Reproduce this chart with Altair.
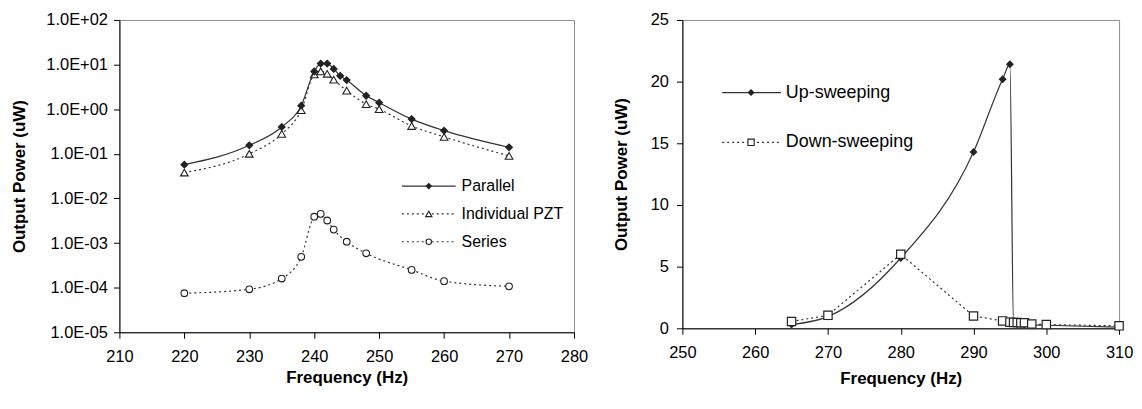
import altair as alt
import pandas as pd

# ---------------- data ----------------
# Left panel: log-scale output power vs frequency
par_freq = [220, 230, 235, 238, 240, 241, 242, 243, 244, 245, 248, 250, 255, 260, 270]
par_power = [0.057, 0.155, 0.40, 1.2, 7.0, 10.5, 10.5, 8.0, 5.6, 4.5, 2.0, 1.4, 0.60, 0.33, 0.14]

ind_freq = [220, 230, 235, 238, 240, 241, 242, 243, 245, 248, 250, 255, 260, 270]
ind_power = [0.038, 0.10, 0.28, 0.95, 6.0, 7.0, 6.2, 4.6, 2.6, 1.3, 1.0, 0.42, 0.24, 0.09]

ser_freq = [220, 230, 235, 238, 240, 241, 242, 243, 245, 248, 255, 260, 270]
ser_power = [7.5e-5, 9.2e-5, 1.6e-4, 4.9e-4, 3.9e-3, 4.5e-3, 3.2e-3, 2.0e-3, 1.07e-3, 5.9e-4, 2.5e-4, 1.4e-4, 1.07e-4]

left_series = ["Parallel", "Individual PZT", "Series"]
left_x_ticks = [210, 220, 230, 240, 250, 260, 270, 280]
left_y_ticks = [1e-5, 1e-4, 1e-3, 1e-2, 1e-1, 1e0, 1e1, 1e2]
left_y_labels = ["1.0E-05", "1.0E-04", "1.0E-03", "1.0E-02", "1.0E-01", "1.0E+00", "1.0E+01", "1.0E+02"]

# Right panel: linear output power vs frequency
up_freq = [265, 270, 280, 290, 294, 295, 295.5, 296, 297, 300, 310]
up_power = [0.3, 0.95, 5.7, 14.3, 20.2, 21.4, 0.4, 0.35, 0.3, 0.25, 0.1]

down_freq = [265, 270, 280, 290, 294, 295, 295.5, 296, 296.5, 297, 298, 300, 310]
down_power = [0.55, 1.05, 6.0, 1.0, 0.6, 0.5, 0.48, 0.47, 0.45, 0.45, 0.35, 0.3, 0.2]

right_series = ["Up-sweeping", "Down-sweeping"]
right_x_ticks = [250, 260, 270, 280, 290, 300, 310]
right_y_ticks = [0, 5, 10, 15, 20, 25]

x_title = "Frequency (Hz)"
y_title = "Output Power (uW)"

# ---------------- styling ----------------
FONT = "Liberation Sans"
LINE = "#333333"
MARK = "#222222"
DOT = [2, 3]

par_df = pd.DataFrame({"f": par_freq, "p": par_power})
ind_df = pd.DataFrame({"f": ind_freq, "p": ind_power})
ser_df = pd.DataFrame({"f": ser_freq, "p": ser_power})
up_df = pd.DataFrame({"f": up_freq, "p": up_power})
down_df = pd.DataFrame({"f": down_freq, "p": down_power})

label_expr = "[" + ",".join("'%s'" % s for s in left_y_labels) + "][round(log(datum.value)/LN10)+5]"

LW, LH = 457, 314
RW, RH = 439, 310

lx = alt.X("f:Q", scale=alt.Scale(domain=[210, 280], nice=False),
           axis=alt.Axis(values=left_x_ticks, title=x_title, titleY=45, titleBaseline="middle",
                         labelPadding=10, tickSize=6, labelFlush=False))
ly = alt.Y("p:Q", scale=alt.Scale(type="log", domain=[1e-5, 100], nice=False),
           axis=alt.Axis(values=left_y_ticks, labelExpr=label_expr, title=y_title,
                         titleX=-100, titleBaseline="middle", tickSize=6, labelPadding=6))


def lline(df, dash=None, interp="monotone"):
    kw = dict(color=LINE, strokeWidth=1.2, interpolate=interp)
    if dash:
        kw["strokeDash"] = dash
    return alt.Chart(df).mark_line(**kw).encode(x=lx, y=ly)


def lpts(df, shape, filled, size):
    if filled:
        m = alt.Chart(df).mark_point(shape=shape, filled=True, color=MARK, size=size, opacity=1)
    else:
        m = alt.Chart(df).mark_point(shape=shape, filled=True, fill="white", stroke=MARK,
                                     strokeWidth=1.1, size=size, opacity=1)
    return m.encode(x=lx, y=ly)


# legend (left)
leg_ys_left = [167, 195, 223]
leg_shapes_left = ["diamond", "triangle-up", "circle"]
leg_sizes_left = [45, 40, 30]
legend_left = []
for name, yy, shp, sz, i in zip(left_series, leg_ys_left, leg_shapes_left, leg_sizes_left, range(3)):
    one = pd.DataFrame({"label": [name]})
    rule_kw = dict(color=LINE, strokeWidth=1.2)
    if i > 0:
        rule_kw["strokeDash"] = DOT
    legend_left.append(alt.Chart(one).mark_rule(**rule_kw).encode(
        x=alt.value(284), x2=alt.value(338), y=alt.value(yy)))
    if i == 0:
        pm = alt.Chart(one).mark_point(shape=shp, filled=True, color=MARK, size=sz, opacity=1)
    else:
        pm = alt.Chart(one).mark_point(shape=shp, filled=True, fill="white", stroke=MARK,
                                       strokeWidth=1.1, size=sz, opacity=1)
    legend_left.append(pm.encode(x=alt.value(311), y=alt.value(yy)))
    legend_left.append(alt.Chart(one).mark_text(align="left", baseline="middle", font=FONT,
                                                fontSize=16, color="black").encode(
        x=alt.value(344), y=alt.value(yy), text="label:N"))

left = alt.layer(
    lline(ser_df, DOT), lpts(ser_df, "circle", False, 45),
    lline(ind_df, DOT), lpts(ind_df, "triangle-up", False, 60),
    lline(par_df), lpts(par_df, "diamond", True, 70),
    *legend_left,
).properties(width=LW, height=LH)

# ---------------- right panel ----------------
rx = alt.X("f:Q", scale=alt.Scale(domain=[250, 310], nice=False),
           axis=alt.Axis(values=right_x_ticks, title=x_title, titleY=50, titleBaseline="middle",
                         labelPadding=10, tickSize=6, labelFlush=False))
ry = alt.Y("p:Q", scale=alt.Scale(domain=[0, 25], nice=False),
           axis=alt.Axis(values=right_y_ticks, title=y_title, titleX=-61, titleBaseline="middle",
                         tickSize=6, labelPadding=8))

up_line = alt.Chart(up_df).mark_line(color=LINE, strokeWidth=1.2, interpolate="monotone").encode(x=rx, y=ry)
up_pts = alt.Chart(up_df).mark_point(shape="diamond", filled=True, color=MARK, size=64, opacity=1).encode(x=rx, y=ry)
down_line = alt.Chart(down_df).mark_line(color=LINE, strokeWidth=1.2, strokeDash=DOT).encode(x=rx, y=ry)
down_pts = alt.Chart(down_df).mark_point(shape="square", filled=True, fill="white", stroke=MARK,
                                         strokeWidth=1.2, size=70, opacity=1).encode(x=rx, y=ry)

leg_ys_right = [73, 123]
legend_right = []
for i, (name, yy) in enumerate(zip(right_series, leg_ys_right)):
    one = pd.DataFrame({"label": [name]})
    rule_kw = dict(color=LINE, strokeWidth=1.2)
    if i > 0:
        rule_kw["strokeDash"] = DOT
    legend_right.append(alt.Chart(one).mark_rule(**rule_kw).encode(
        x=alt.value(40), x2=alt.value(99), y=alt.value(yy)))
    if i == 0:
        pm = alt.Chart(one).mark_point(shape="diamond", filled=True, color=MARK, size=50, opacity=1)
    else:
        pm = alt.Chart(one).mark_point(shape="square", filled=True, fill="white", stroke=MARK,
                                       strokeWidth=1.1, size=40, opacity=1)
    legend_right.append(pm.encode(x=alt.value(69), y=alt.value(yy)))
    legend_right.append(alt.Chart(one).mark_text(align="left", baseline="middle", font=FONT,
                                                 fontSize=18, color="black").encode(
        x=alt.value(104), y=alt.value(yy), text="label:N"))

right = alt.layer(up_line, up_pts, down_line, down_pts, *legend_right).properties(width=RW, height=RH)

chart = alt.hconcat(left, right, spacing=23).properties(
    padding={"left": 2, "top": 2, "right": 0, "bottom": 0},
    background="white",
).configure_view(
    stroke="#8c8c8c", strokeWidth=1
).configure_axis(
    grid=False, domainColor="black", tickColor="black", labelColor="black",
    labelFont=FONT, labelFontSize=16.5, titleFont=FONT, titleFontSize=17,
    titleFontWeight="bold", titleColor="black", domainWidth=1, tickWidth=1
)

chart.save("out.html", embed_options={"renderer": "svg", "actions": False})
